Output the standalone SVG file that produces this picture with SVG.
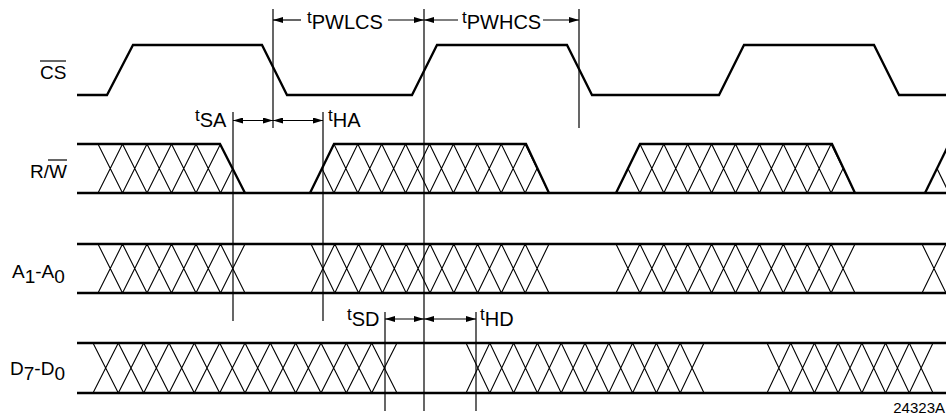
<svg xmlns="http://www.w3.org/2000/svg" width="946" height="417" viewBox="0 0 946 417">
<style>
.wave{fill:none;stroke:#000;stroke-width:2.3;stroke-linejoin:miter}
.hatch{fill:none;stroke:#000;stroke-width:1.1}
.vline{stroke:#000;stroke-width:1.2}
.arr{stroke:#000;stroke-width:1.2;fill:none}
.lbl{font-family:"Liberation Sans",Arial,sans-serif;font-size:19px;fill:#000}
.tl{font-family:"Liberation Sans",Arial,sans-serif;font-size:17px;fill:#000}
.sub{font-size:20px}
</style>
<defs>
<marker id="ah" viewBox="0 0 10 6" refX="10" refY="3" markerWidth="10" markerHeight="6" markerUnits="userSpaceOnUse" orient="auto-start-reverse">
<path d="M0,0 L10,3 L0,6 z" fill="#000"/>
</marker>
<clipPath id="rw1"><polygon points="70,144 220,144 245,193 70,193"/></clipPath>
<clipPath id="rw2"><polygon points="310,193 334,144 526,144 549,193"/></clipPath>
<clipPath id="rw3"><polygon points="616,193 640,144 832,144 855,193"/></clipPath>
<clipPath id="rw4"><polygon points="925,193 949,144 960,144 960,193"/></clipPath>
</defs>

<g id="labels">
<text class="lbl" x="40" y="79">CS</text>
<line x1="40" y1="61" x2="66" y2="61" stroke="#000" stroke-width="1.2"/>
<text class="lbl" x="30" y="178">R/W</text>
<line x1="48" y1="160" x2="67" y2="160" stroke="#000" stroke-width="1.2"/>
<text class="lbl" x="12" y="278">A<tspan dy="5">1</tspan><tspan dy="-5">-A</tspan><tspan dy="5">0</tspan></text>
<text class="lbl" x="10" y="375">D<tspan dy="5">7</tspan><tspan dy="-5">-D</tspan><tspan dy="5">0</tspan></text>
<text x="945" y="413" text-anchor="end" style="font-family:'Liberation Sans',Arial,sans-serif;font-size:15px">24323A</text>
</g>

<g id="cs">
<polyline class="wave" points="77,95 107,95 133,45 262,45 287,95 412,95 437,45 567,45 592,95 719,95 744,45 874,45 899,95 946,95"/>
</g>

<g id="rw">
<line class="wave" x1="77" y1="193" x2="946" y2="193"/>
<polyline class="wave" points="77,144 220,144 245,193"/>
<polyline class="wave" points="310,193 334,144 526,144 549,193"/>
<polyline class="wave" points="616,193 640,144 832,144 855,193"/>
<polyline class="wave" points="925,193 950,142"/>
<g clip-path="url(#rw1)">
<path class="hatch" d="M98,144 L122.5,193 L147,144 L171.5,193 L196,144 L220.5,193 L245,144 M98,193 L122.5,144 L147,193 L171.5,144 L196,193 L220.5,144 L245,193"/>
</g>
<g clip-path="url(#rw2)">
<path class="hatch" d="M310,144 L333.9,193 L357.8,144 L381.7,193 L405.6,144 L429.5,193 L453.4,144 L477.3,193 L501.2,144 L525.1,193 L549,144 M310,193 L333.9,144 L357.8,193 L381.7,144 L405.6,193 L429.5,144 L453.4,193 L477.3,144 L501.2,193 L525.1,144 L549,193"/>
</g>
<g clip-path="url(#rw3)">
<path class="hatch" d="M616,144 L639.9,193 L663.8,144 L687.7,193 L711.6,144 L735.5,193 L759.4,144 L783.3,193 L807.2,144 L831.1,193 L855,144 M616,193 L639.9,144 L663.8,193 L687.7,144 L711.6,193 L735.5,144 L759.4,193 L783.3,144 L807.2,193 L831.1,144 L855,193"/>
</g>
<g clip-path="url(#rw4)">
<path class="hatch" d="M925,144 L949,193"/>
</g>
</g>

<g id="a1a0">
<line class="wave" x1="77" y1="244" x2="946" y2="244"/>
<line class="wave" x1="77" y1="293" x2="946" y2="293"/>
<path class="hatch" d="M98,244 L122.5,293 L147,244 L171.5,293 L196,244 L220.5,293 L245,244 M98,293 L122.5,244 L147,293 L171.5,244 L196,293 L220.5,244 L245,293"/>
<path class="hatch" d="M311,244 L334.8,293 L358.6,244 L382.4,293 L406.2,244 L430,293 L453.8,244 L477.6,293 L501.4,244 L525.2,293 L549,244 M311,293 L334.8,244 L358.6,293 L382.4,244 L406.2,293 L430,244 L453.8,293 L477.6,244 L501.4,293 L525.2,244 L549,293"/>
<path class="hatch" d="M616,244 L639.9,293 L663.8,244 L687.7,293 L711.6,244 L735.5,293 L759.4,244 L783.3,293 L807.2,244 L831.1,293 L855,244 M616,293 L639.9,244 L663.8,293 L687.7,244 L711.6,293 L735.5,244 L759.4,293 L783.3,244 L807.2,293 L831.1,244 L855,293"/>
<path class="hatch" d="M922,244 L946,293 M922,293 L946,244"/>
</g>

<g id="d7d0">
<line class="wave" x1="77" y1="343" x2="946" y2="343"/>
<line class="wave" x1="77" y1="393" x2="946" y2="393"/>
<path class="hatch" d="M93,343 L118.33,393 L143.67,343 L169,393 L194.33,343 L219.67,393 L245,343 L270.33,393 L295.67,343 L321,393 L346.33,343 L371.67,393 L397,343 M93,393 L118.33,343 L143.67,393 L169,343 L194.33,393 L219.67,343 L245,393 L270.33,343 L295.67,393 L321,343 L346.33,393 L371.67,343 L397,393"/>
<path class="hatch" d="M466,343 L489.8,393 L513.6,343 L537.4,393 L561.2,343 L585,393 L608.8,343 L632.6,393 L656.4,343 L680.2,393 L704,343 M466,393 L489.8,343 L513.6,393 L537.4,343 L561.2,393 L585,343 L608.8,393 L632.6,343 L656.4,393 L680.2,343 L704,393"/>
<path class="hatch" d="M767,343 L790.71,393 L814.43,343 L838.14,393 L861.86,343 L885.57,393 L909.29,343 L933,393 M767,393 L790.71,343 L814.43,393 L838.14,343 L861.86,393 L885.57,343 L909.29,393 L933,343"/>
</g>

<g id="connectors">
<line class="vline" x1="273" y1="9" x2="273" y2="128"/>
<line class="vline" x1="424" y1="9" x2="424" y2="411"/>
<line class="vline" x1="579" y1="9" x2="579" y2="128"/>
<line class="vline" x1="233" y1="112" x2="233" y2="321"/>
<line class="vline" x1="323" y1="112" x2="323" y2="321"/>
<line class="vline" x1="385" y1="312" x2="385" y2="411"/>
<line class="vline" x1="476" y1="312" x2="476" y2="411"/>

<line class="arr" x1="301" y1="20" x2="273" y2="20" marker-end="url(#ah)"/>
<line class="arr" x1="388" y1="20" x2="424" y2="20" marker-end="url(#ah)"/>
<line class="arr" x1="458" y1="20" x2="424" y2="20" marker-end="url(#ah)"/>
<line class="arr" x1="543" y1="20" x2="579" y2="20" marker-end="url(#ah)"/>

<line class="arr" x1="233" y1="120.5" x2="273" y2="120.5" marker-start="url(#ah)" marker-end="url(#ah)"/>
<line class="arr" x1="273" y1="120.5" x2="323" y2="120.5" marker-start="url(#ah)" marker-end="url(#ah)"/>

<line class="arr" x1="385" y1="319" x2="424" y2="319" marker-start="url(#ah)" marker-end="url(#ah)"/>
<line class="arr" x1="424" y1="319" x2="476" y2="319" marker-start="url(#ah)" marker-end="url(#ah)"/>
</g>

<g id="timing-labels">
<text class="tl" x="307" y="23">t<tspan class="sub" dy="6">PWLCS</tspan></text>
<text class="tl" x="462" y="23">t<tspan class="sub" dy="6">PWHCS</tspan></text>
<text class="tl" x="195" y="121">t<tspan class="sub" dy="6">SA</tspan></text>
<text class="tl" x="328" y="121">t<tspan class="sub" dy="6">HA</tspan></text>
<text class="tl" x="347" y="320">t<tspan class="sub" dy="6">SD</tspan></text>
<text class="tl" x="480" y="320">t<tspan class="sub" dy="6">HD</tspan></text>
</g>
</svg>
